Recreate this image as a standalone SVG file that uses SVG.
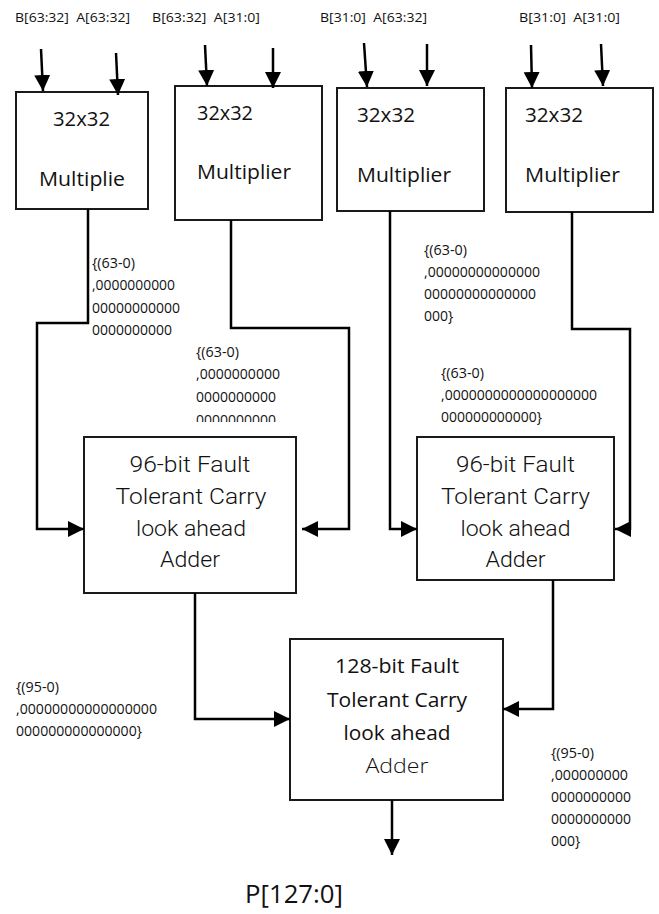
<svg xmlns="http://www.w3.org/2000/svg" width="659" height="914" viewBox="0 0 659 914">
  <style>
    .box { fill: #ffffff; stroke: #1a1a1a; stroke-width: 2; }
    .wire { fill: none; stroke: #000000; stroke-width: 2.5; }
    .in { font-family: "Open Sans", "Liberation Sans", sans-serif; font-size: 13px; fill: #111111; }
    .mul { font-family: "Open Sans", "Liberation Sans", sans-serif; font-size: 19.5px; fill: #111111; }
    .add96 { font-family: Roboto, "Liberation Sans", sans-serif; font-weight: 300; font-size: 22px; fill: #111111; text-anchor: middle; }
    .add128 { font-family: "Open Sans", "Liberation Sans", sans-serif; font-size: 20px; fill: #111111; text-anchor: middle; }
    .bus { font-family: "Open Sans", "Liberation Sans", sans-serif; font-size: 14px; fill: #111111; }
    .out { font-family: "Open Sans", "Liberation Sans", sans-serif; font-size: 25px; fill: #111111; }
  </style>
  <defs>
    <marker id="arrow" viewBox="0 0 16 16" refX="16" refY="8" markerWidth="16" markerHeight="16" markerUnits="userSpaceOnUse" orient="auto">
      <path d="M0,0 L16,8 L0,16 Z" fill="#000000"/>
    </marker>
    <clipPath id="clipBus2">
      <rect x="180" y="330" width="120" height="92"/>
    </clipPath>
  </defs>

  <!-- operand labels -->
  <g id="inputs">
    <text class="in" x="15" y="22" xml:space="preserve" textLength="115" lengthAdjust="spacingAndGlyphs">B[63:32]  A[63:32]</text>
    <text class="in" x="152" y="22" xml:space="preserve" textLength="108" lengthAdjust="spacingAndGlyphs">B[63:32]  A[31:0]</text>
    <text class="in" x="320" y="22" xml:space="preserve" textLength="107" lengthAdjust="spacingAndGlyphs">B[31:0]  A[63:32]</text>
    <text class="in" x="519" y="22" xml:space="preserve" textLength="101" lengthAdjust="spacingAndGlyphs">B[31:0]  A[31:0]</text>
  </g>

  <!-- 32x32 multipliers -->
  <g id="mul1">
    <rect class="box" x="16" y="92" width="132" height="117"/>
    <text class="mul" x="53" y="126" textLength="57" lengthAdjust="spacingAndGlyphs">32x32</text>
    <text class="mul" x="39" y="186" textLength="86" lengthAdjust="spacingAndGlyphs">Multiplie</text>
  </g>
  <g id="mul2">
    <rect class="box" x="175" y="86" width="147" height="134"/>
    <text class="mul" x="197" y="120" textLength="56" lengthAdjust="spacingAndGlyphs">32x32</text>
    <text class="mul" x="197" y="179" textLength="94" lengthAdjust="spacingAndGlyphs">Multiplier</text>
  </g>
  <g id="mul3">
    <rect class="box" x="337" y="88" width="147" height="123"/>
    <text class="mul" x="357" y="122" textLength="58" lengthAdjust="spacingAndGlyphs">32x32</text>
    <text class="mul" x="357" y="182" textLength="94" lengthAdjust="spacingAndGlyphs">Multiplier</text>
  </g>
  <g id="mul4">
    <rect class="box" x="506" y="88" width="147" height="124"/>
    <text class="mul" x="525" y="122" textLength="58" lengthAdjust="spacingAndGlyphs">32x32</text>
    <text class="mul" x="525" y="182" textLength="95" lengthAdjust="spacingAndGlyphs">Multiplier</text>
  </g>

  <!-- 96-bit adders -->
  <g id="add96a">
    <rect class="box" x="84" y="437" width="212" height="156"/>
    <text class="add96" x="190" y="472" textLength="121" lengthAdjust="spacingAndGlyphs">96-bit Fault</text>
    <text class="add96" x="191" y="504" textLength="151" lengthAdjust="spacingAndGlyphs">Tolerant Carry</text>
    <text class="add96" x="191" y="536" textLength="110" lengthAdjust="spacingAndGlyphs">look ahead</text>
    <text class="add96" x="190" y="567" textLength="60" lengthAdjust="spacingAndGlyphs">Adder</text>
  </g>
  <g id="add96b">
    <rect class="box" x="417" y="437" width="197" height="143"/>
    <text class="add96" x="515.5" y="472" textLength="119" lengthAdjust="spacingAndGlyphs">96-bit Fault</text>
    <text class="add96" x="515.5" y="504" textLength="149" lengthAdjust="spacingAndGlyphs">Tolerant Carry</text>
    <text class="add96" x="515.5" y="536" textLength="110" lengthAdjust="spacingAndGlyphs">look ahead</text>
    <text class="add96" x="515.5" y="567" textLength="60" lengthAdjust="spacingAndGlyphs">Adder</text>
  </g>

  <!-- 128-bit adder -->
  <g id="add128">
    <rect class="box" x="290" y="639" width="213" height="161"/>
    <text class="add128" x="397" y="673" textLength="124" lengthAdjust="spacingAndGlyphs">128-bit Fault</text>
    <text class="add128" x="397" y="707" textLength="140" lengthAdjust="spacingAndGlyphs">Tolerant Carry</text>
    <text class="add128" x="397" y="740" textLength="107" lengthAdjust="spacingAndGlyphs">look ahead</text>
    <text class="add128" x="397" y="773" font-weight="300" textLength="63" lengthAdjust="spacingAndGlyphs">Adder</text>
  </g>

  <!-- result label -->
  <g id="result">
    <text class="out" x="245" y="903" textLength="98" lengthAdjust="spacingAndGlyphs">P[127:0]</text>
  </g>

  <!-- bus width annotations -->
  <g id="bus-labels">
    <text class="bus" x="92" y="268" textLength="43" lengthAdjust="spacingAndGlyphs">{(63-0)</text>
    <text class="bus" x="92" y="290" textLength="83" lengthAdjust="spacingAndGlyphs">,0000000000</text>
    <text class="bus" x="92" y="313" textLength="88" lengthAdjust="spacingAndGlyphs">00000000000</text>
    <text class="bus" x="92" y="335" textLength="80" lengthAdjust="spacingAndGlyphs">0000000000</text>

    <g clip-path="url(#clipBus2)">
      <text class="bus" x="196" y="357" textLength="43" lengthAdjust="spacingAndGlyphs">{(63-0)</text>
      <text class="bus" x="196" y="379" textLength="84" lengthAdjust="spacingAndGlyphs">,0000000000</text>
      <text class="bus" x="196" y="402" textLength="80" lengthAdjust="spacingAndGlyphs">0000000000</text>
      <text class="bus" x="196" y="425" textLength="80" lengthAdjust="spacingAndGlyphs">0000000000</text>
    </g>

    <text class="bus" x="424" y="255" textLength="43" lengthAdjust="spacingAndGlyphs">{(63-0)</text>
    <text class="bus" x="424" y="277" textLength="116" lengthAdjust="spacingAndGlyphs">,00000000000000</text>
    <text class="bus" x="424" y="299" textLength="112" lengthAdjust="spacingAndGlyphs">00000000000000</text>
    <text class="bus" x="424" y="321">000}</text>

    <text class="bus" x="441" y="378" textLength="43" lengthAdjust="spacingAndGlyphs">{(63-0)</text>
    <text class="bus" x="441" y="400" textLength="156" lengthAdjust="spacingAndGlyphs">,0000000000000000000</text>
    <text class="bus" x="441" y="422" textLength="101" lengthAdjust="spacingAndGlyphs">000000000000}</text>

    <text class="bus" x="16" y="692" textLength="43" lengthAdjust="spacingAndGlyphs">{(95-0)</text>
    <text class="bus" x="16" y="714" textLength="141" lengthAdjust="spacingAndGlyphs">,00000000000000000</text>
    <text class="bus" x="16" y="736" textLength="126" lengthAdjust="spacingAndGlyphs">000000000000000}</text>

    <text class="bus" x="551" y="758" textLength="43" lengthAdjust="spacingAndGlyphs">{(95-0)</text>
    <text class="bus" x="551" y="780" textLength="77" lengthAdjust="spacingAndGlyphs">,000000000</text>
    <text class="bus" x="551" y="802" textLength="80" lengthAdjust="spacingAndGlyphs">0000000000</text>
    <text class="bus" x="551" y="824" textLength="80" lengthAdjust="spacingAndGlyphs">0000000000</text>
    <text class="bus" x="551" y="846">000}</text>
  </g>

  <!-- connectors -->
  <g id="connectors">
    <!-- operand inputs -->
    <path class="wire" d="M41,49 L43,91" marker-end="url(#arrow)"/>
    <path class="wire" d="M116,53 L118,95" marker-end="url(#arrow)"/>
    <path class="wire" d="M205,45 L207,86" marker-end="url(#arrow)"/>
    <path class="wire" d="M273,48 L273,88" marker-end="url(#arrow)"/>
    <path class="wire" d="M364,43 L367,87" marker-end="url(#arrow)"/>
    <path class="wire" d="M427,44 L427,86" marker-end="url(#arrow)"/>
    <path class="wire" d="M531,45 L532,88" marker-end="url(#arrow)"/>
    <path class="wire" d="M601,44 L603,86" marker-end="url(#arrow)"/>

    <!-- multipliers to 96-bit adders -->
    <path class="wire" d="M88,209 L88,323 L37,323 L37,529 L84,529" marker-end="url(#arrow)"/>
    <path class="wire" d="M231,220 L231,328 L349,328 L349,529 L302,529" marker-end="url(#arrow)"/>
    <path class="wire" d="M390,211 L390,529 L417,529" marker-end="url(#arrow)"/>
    <path class="wire" d="M572,212 L572,329 L630,329 L630,529 L615,529" marker-end="url(#arrow)"/>

    <!-- 96-bit adders to 128-bit adder -->
    <path class="wire" d="M195,593 L195,719 L290,719" marker-end="url(#arrow)"/>
    <path class="wire" d="M553,580 L553,709 L503,709" marker-end="url(#arrow)"/>

    <!-- product output -->
    <path class="wire" d="M392,800 L392,855" marker-end="url(#arrow)"/>
  </g>
</svg>
